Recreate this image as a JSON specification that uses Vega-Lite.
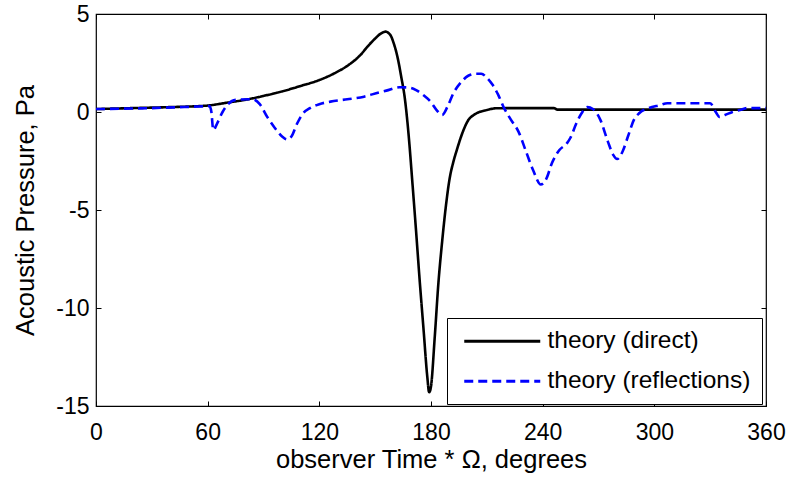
{
  "$schema": "https://vega.github.io/schema/vega-lite/v6.json",
  "width": 670,
  "height": 392,
  "autosize": {"type": "none"},
  "padding": {"left": 96, "top": 14, "right": 23, "bottom": 72},
  "background": "white",
  "config": {
    "view": {"stroke": "black", "strokeWidth": 1.2},
    "font": "Liberation Sans",
    "axis": {"grid": false, "domain": false, "tickColor": "black", "tickWidth": 1, "labelColor": "black", "titleColor": "black", "labelFont": "Liberation Sans", "titleFont": "Liberation Sans", "titleFontWeight": "normal", "labelFlush": false, "labelOverlap": false}
  },
  "datasets": {
    "pressure": [
      {"deg": 0, "p": 0.15, "series": "theory (direct)"},
      {"deg": 20, "p": 0.2, "series": "theory (direct)"},
      {"deg": 40, "p": 0.25, "series": "theory (direct)"},
      {"deg": 60, "p": 0.33, "series": "theory (direct)"},
      {"deg": 70, "p": 0.47, "series": "theory (direct)"},
      {"deg": 80, "p": 0.62, "series": "theory (direct)"},
      {"deg": 90, "p": 0.82, "series": "theory (direct)"},
      {"deg": 100, "p": 1.05, "series": "theory (direct)"},
      {"deg": 110, "p": 1.33, "series": "theory (direct)"},
      {"deg": 120, "p": 1.63, "series": "theory (direct)"},
      {"deg": 128, "p": 1.97, "series": "theory (direct)"},
      {"deg": 136, "p": 2.42, "series": "theory (direct)"},
      {"deg": 142, "p": 2.9, "series": "theory (direct)"},
      {"deg": 146, "p": 3.35, "series": "theory (direct)"},
      {"deg": 150, "p": 3.75, "series": "theory (direct)"},
      {"deg": 153, "p": 4.0, "series": "theory (direct)"},
      {"deg": 155.5, "p": 4.1, "series": "theory (direct)"},
      {"deg": 158, "p": 3.95, "series": "theory (direct)"},
      {"deg": 160, "p": 3.5, "series": "theory (direct)"},
      {"deg": 162, "p": 2.8, "series": "theory (direct)"},
      {"deg": 164, "p": 1.8, "series": "theory (direct)"},
      {"deg": 166, "p": 0.65, "series": "theory (direct)"},
      {"deg": 168, "p": -1.2, "series": "theory (direct)"},
      {"deg": 170, "p": -3.6, "series": "theory (direct)"},
      {"deg": 172, "p": -6.1, "series": "theory (direct)"},
      {"deg": 174, "p": -8.7, "series": "theory (direct)"},
      {"deg": 176, "p": -11.1, "series": "theory (direct)"},
      {"deg": 178, "p": -13.5, "series": "theory (direct)"},
      {"deg": 179, "p": -14.3, "series": "theory (direct)"},
      {"deg": 180, "p": -14.0, "series": "theory (direct)"},
      {"deg": 182, "p": -11.5, "series": "theory (direct)"},
      {"deg": 184, "p": -8.7, "series": "theory (direct)"},
      {"deg": 186, "p": -6.6, "series": "theory (direct)"},
      {"deg": 188, "p": -4.8, "series": "theory (direct)"},
      {"deg": 190, "p": -3.4, "series": "theory (direct)"},
      {"deg": 192, "p": -2.55, "series": "theory (direct)"},
      {"deg": 194, "p": -1.9, "series": "theory (direct)"},
      {"deg": 196, "p": -1.3, "series": "theory (direct)"},
      {"deg": 198, "p": -0.8, "series": "theory (direct)"},
      {"deg": 200, "p": -0.42, "series": "theory (direct)"},
      {"deg": 203, "p": -0.15, "series": "theory (direct)"},
      {"deg": 206, "p": 0.0, "series": "theory (direct)"},
      {"deg": 210, "p": 0.1, "series": "theory (direct)"},
      {"deg": 215, "p": 0.19, "series": "theory (direct)"},
      {"deg": 230, "p": 0.2, "series": "theory (direct)"},
      {"deg": 246, "p": 0.2, "series": "theory (direct)"},
      {"deg": 248, "p": 0.12, "series": "theory (direct)"},
      {"deg": 300, "p": 0.12, "series": "theory (direct)"},
      {"deg": 360, "p": 0.12, "series": "theory (direct)"},

      {"deg": 0, "p": 0.15, "series": "theory (reflections)"},
      {"deg": 30, "p": 0.2, "series": "theory (reflections)"},
      {"deg": 55, "p": 0.28, "series": "theory (reflections)"},
      {"deg": 61, "p": 0.3, "series": "theory (reflections)"},
      {"deg": 62, "p": 0.0, "series": "theory (reflections)"},
      {"deg": 63, "p": -0.92, "series": "theory (reflections)"},
      {"deg": 65, "p": -0.6, "series": "theory (reflections)"},
      {"deg": 68, "p": 0.0, "series": "theory (reflections)"},
      {"deg": 71, "p": 0.4, "series": "theory (reflections)"},
      {"deg": 75, "p": 0.62, "series": "theory (reflections)"},
      {"deg": 84, "p": 0.65, "series": "theory (reflections)"},
      {"deg": 88, "p": 0.4, "series": "theory (reflections)"},
      {"deg": 92, "p": -0.25, "series": "theory (reflections)"},
      {"deg": 96, "p": -0.8, "series": "theory (reflections)"},
      {"deg": 100, "p": -1.25, "series": "theory (reflections)"},
      {"deg": 102.6, "p": -1.4, "series": "theory (reflections)"},
      {"deg": 105, "p": -1.25, "series": "theory (reflections)"},
      {"deg": 108, "p": -0.6, "series": "theory (reflections)"},
      {"deg": 111, "p": -0.1, "series": "theory (reflections)"},
      {"deg": 115, "p": 0.2, "series": "theory (reflections)"},
      {"deg": 120, "p": 0.4, "series": "theory (reflections)"},
      {"deg": 126, "p": 0.53, "series": "theory (reflections)"},
      {"deg": 135, "p": 0.65, "series": "theory (reflections)"},
      {"deg": 144, "p": 0.78, "series": "theory (reflections)"},
      {"deg": 152, "p": 1.0, "series": "theory (reflections)"},
      {"deg": 156, "p": 1.09, "series": "theory (reflections)"},
      {"deg": 163, "p": 1.26, "series": "theory (reflections)"},
      {"deg": 168, "p": 1.25, "series": "theory (reflections)"},
      {"deg": 172, "p": 1.12, "series": "theory (reflections)"},
      {"deg": 176, "p": 0.85, "series": "theory (reflections)"},
      {"deg": 180, "p": 0.5, "series": "theory (reflections)"},
      {"deg": 183, "p": 0.1, "series": "theory (reflections)"},
      {"deg": 186, "p": -0.15, "series": "theory (reflections)"},
      {"deg": 189, "p": 0.3, "series": "theory (reflections)"},
      {"deg": 192, "p": 0.95, "series": "theory (reflections)"},
      {"deg": 196, "p": 1.5, "series": "theory (reflections)"},
      {"deg": 200, "p": 1.85, "series": "theory (reflections)"},
      {"deg": 204, "p": 1.95, "series": "theory (reflections)"},
      {"deg": 207, "p": 1.95, "series": "theory (reflections)"},
      {"deg": 210, "p": 1.75, "series": "theory (reflections)"},
      {"deg": 213, "p": 1.4, "series": "theory (reflections)"},
      {"deg": 216, "p": 0.9, "series": "theory (reflections)"},
      {"deg": 219, "p": 0.25, "series": "theory (reflections)"},
      {"deg": 223, "p": -0.4, "series": "theory (reflections)"},
      {"deg": 227, "p": -1.0, "series": "theory (reflections)"},
      {"deg": 231, "p": -2.0, "series": "theory (reflections)"},
      {"deg": 235, "p": -3.0, "series": "theory (reflections)"},
      {"deg": 239, "p": -3.7, "series": "theory (reflections)"},
      {"deg": 242, "p": -3.4, "series": "theory (reflections)"},
      {"deg": 245, "p": -2.6, "series": "theory (reflections)"},
      {"deg": 249, "p": -1.94, "series": "theory (reflections)"},
      {"deg": 253, "p": -1.6, "series": "theory (reflections)"},
      {"deg": 255, "p": -1.3, "series": "theory (reflections)"},
      {"deg": 258, "p": -0.6, "series": "theory (reflections)"},
      {"deg": 261, "p": -0.05, "series": "theory (reflections)"},
      {"deg": 264, "p": 0.25, "series": "theory (reflections)"},
      {"deg": 267, "p": 0.15, "series": "theory (reflections)"},
      {"deg": 271, "p": -0.4, "series": "theory (reflections)"},
      {"deg": 275, "p": -1.5, "series": "theory (reflections)"},
      {"deg": 278, "p": -2.2, "series": "theory (reflections)"},
      {"deg": 280, "p": -2.4, "series": "theory (reflections)"},
      {"deg": 283, "p": -2.0, "series": "theory (reflections)"},
      {"deg": 286, "p": -1.2, "series": "theory (reflections)"},
      {"deg": 289, "p": -0.4, "series": "theory (reflections)"},
      {"deg": 292, "p": -0.05, "series": "theory (reflections)"},
      {"deg": 297, "p": 0.2, "series": "theory (reflections)"},
      {"deg": 303, "p": 0.35, "series": "theory (reflections)"},
      {"deg": 307, "p": 0.45, "series": "theory (reflections)"},
      {"deg": 330, "p": 0.45, "series": "theory (reflections)"},
      {"deg": 333, "p": 0.0, "series": "theory (reflections)"},
      {"deg": 335, "p": -0.25, "series": "theory (reflections)"},
      {"deg": 338, "p": -0.15, "series": "theory (reflections)"},
      {"deg": 342, "p": 0.0, "series": "theory (reflections)"},
      {"deg": 346, "p": 0.1, "series": "theory (reflections)"},
      {"deg": 350, "p": 0.2, "series": "theory (reflections)"},
      {"deg": 360, "p": 0.2, "series": "theory (reflections)"}
    ]
  },
  "data": {"name": "pressure"},
  "layer": [
    {
      "mark": {"type": "line", "strokeWidth": 2.6, "interpolate": "monotone"},
      "encoding": {
        "x": {"field": "deg", "type": "quantitative", "scale": {"domain": [0, 360], "nice": false, "zero": false},
          "axis": {"values": [0, 60, 120, 180, 240, 300, 360], "tickSize": 5, "offset": -5, "labelPadding": 15, "labelFontSize": 23, "titleFontSize": 25.5, "title": "observer Time * Ω, degrees", "titlePadding": 3, "labelExpr": "replace(datum.label, '−', '-')"}},
        "y": {"field": "p", "type": "quantitative", "scale": {"domain": [-15, 5], "nice": false, "zero": false},
          "axis": {"values": [-15, -10, -5, 0, 5], "tickSize": 5, "offset": -5, "labelPadding": 7, "labelFontSize": 23, "titleFontSize": 25.5, "title": "Acoustic Pressure, Pa", "titlePadding": 17, "labelExpr": "replace(datum.label, '−', '-')"}},
        "color": {"field": "series", "type": "nominal", "scale": {"domain": ["theory (direct)", "theory (reflections)"], "range": ["#000000", "#0000ff"]},
          "legend": {"orient": "none", "legendX": 351, "legendY": 304, "title": null, "symbolType": "M-3.8,0L3.8,0", "symbolSize": 400, "symbolStrokeWidth": 3, "symbolOffset": 32, "labelOffset": 33, "labelFontSize": 24.5, "labelFont": "Liberation Sans", "labelColor": "black", "rowPadding": 15, "strokeColor": "black", "fillColor": "white", "padding": 11, "labelLimit": 400}},
        "strokeDash": {"field": "series", "type": "nominal", "scale": {"domain": ["theory (direct)", "theory (reflections)"], "range": [[1, 0], [9, 5]]}, "legend": null}
      }
    },
    {
      "mark": {"type": "line", "opacity": 0},
      "encoding": {
        "x": {"field": "deg", "type": "quantitative", "axis": {"orient": "top", "values": [0, 60, 120, 180, 240, 300, 360], "tickSize": 5, "offset": -5, "labels": false, "title": null}},
        "y": {"field": "p", "type": "quantitative", "axis": {"orient": "right", "values": [-15, -10, -5, 0, 5], "tickSize": 5, "offset": -5, "labels": false, "title": null}},
        "detail": {"field": "series"}
      }
    }
  ],
  "resolve": {"axis": {"x": "independent", "y": "independent"}}
}
